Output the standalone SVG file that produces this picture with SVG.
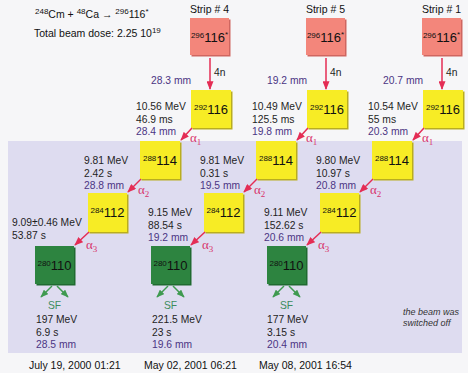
<svg xmlns="http://www.w3.org/2000/svg" width="468" height="373" viewBox="0 0 468 373">
<defs>
<marker id="ar" viewBox="0 0 10 8" refX="9" refY="4" markerWidth="9" markerHeight="7" markerUnits="userSpaceOnUse" orient="auto"><path d="M0,0 L10,4 L0,8 z" fill="#e42d55"/></marker>
<marker id="ag" viewBox="0 0 10 8" refX="9" refY="4" markerWidth="8" markerHeight="6.4" markerUnits="userSpaceOnUse" orient="auto"><path d="M0,0 L10,4 L0,8 z" fill="#3f9a50"/></marker>
</defs>
<style>
text{font-family:"Liberation Sans",Arial,sans-serif;font-size:10.3px;fill:#1e1e1e}
.mm{fill:#4b3584}
.sf{fill:#3c8c5c;text-anchor:middle}
.al{font-family:"Liberation Serif","Times New Roman",serif;font-size:13px;fill:#d8336b}
.al tspan{font-size:9px}
.red{fill:#f3867b}
.rs{fill:#cf6660}
.yel{fill:#f7ec25}
.ys{fill:#b9ad20}
.grn{fill:#2d8440}
.gs{fill:#1f6a30}
.nt{font-size:13px;text-anchor:middle;fill:#111}
.sup{font-size:8px}
.ra{stroke:#e42d55;stroke-width:1.5;fill:none;marker-end:url(#ar)}
.ga{stroke:#3f9a50;stroke-width:1.5;fill:none;marker-end:url(#ag)}
.date{font-size:10.5px;fill:#111}
.note{font-size:9px;font-style:italic;fill:#333}
.hd{font-size:10.5px;fill:#111}
.strip{font-size:10.5px;fill:#111;text-anchor:middle}
</style>
<rect x="0" y="0" width="468" height="373" fill="#f6f6f8"/>
<rect x="8" y="141" width="454" height="212" fill="#dedcf0"/>

<g id="header">
<text class="hd" x="35" y="18"><tspan class="sup" dy="-4">248</tspan><tspan dy="4">Cm + </tspan><tspan class="sup" dy="-4">48</tspan><tspan dy="4">Ca → </tspan><tspan class="sup" dy="-4">296</tspan><tspan dy="4">116</tspan><tspan class="sup" dy="-4">*</tspan></text>
<text class="hd" x="34" y="37">Total beam dose: 2.25 10<tspan class="sup" dy="-4">19</tspan></text>
</g>

<!-- Strip 4 chain -->
<g id="s4-296">
<text class="strip" x="209.5" y="13">Strip # 4</text>
<rect class="rs" x="191.5" y="19.5" width="39" height="37"/>
<rect class="red" x="190" y="18" width="39" height="37"/>
<text class="nt" x="209.5" y="42"><tspan class="sup" dy="-4">296</tspan><tspan dy="4">116</tspan><tspan class="sup" dy="-5">*</tspan></text>
</g>
<g id="s4-292">
<rect class="ys" x="192.5" y="91.5" width="40" height="38"/>
<rect class="yel" x="191" y="90" width="40" height="38"/>
<text class="nt" x="211" y="114"><tspan class="sup" dy="-4">292</tspan><tspan dy="4">116</tspan></text>
<text x="136" y="110">10.56 MeV</text><text x="136" y="122.5">46.9 ms</text><text class="mm" x="136" y="135">28.4 mm</text>
</g>
<g id="s4-288">
<rect class="ys" x="141.5" y="142.5" width="40" height="38"/>
<rect class="yel" x="140" y="141" width="40" height="38"/>
<text class="nt" x="160" y="165"><tspan class="sup" dy="-4">288</tspan><tspan dy="4">114</tspan></text>
<text x="84" y="164">9.81 MeV</text><text x="84" y="176.5">2.42 s</text><text class="mm" x="84" y="189">28.8 mm</text>
</g>
<g id="s4-284">
<rect class="ys" x="89.5" y="194.5" width="39" height="39"/>
<rect class="yel" x="88" y="193" width="39" height="39"/>
<text class="nt" x="107.5" y="217"><tspan class="sup" dy="-4">284</tspan><tspan dy="4">112</tspan></text>
<text x="12" y="226">9.09±0.46 MeV</text><text x="12" y="238.5">53.87 s</text>
</g>
<g id="s4-280">
<rect class="gs" x="36.5" y="247.5" width="39" height="38"/>
<rect class="grn" x="35" y="246" width="39" height="38"/>
<text class="nt" x="54.5" y="270"><tspan class="sup" dy="-4">280</tspan><tspan dy="4">110</tspan></text>
<text class="sf" x="54.5" y="309">SF</text>
<text x="36" y="323">197 MeV</text><text x="36" y="335.5">6.9 s</text><text class="mm" x="36" y="348">28.5 mm</text>
<text class="date" x="29" y="369">July 19, 2000 01:21</text>
</g>

<!-- Strip 5 chain -->
<g id="s5-296">
<text class="strip" x="325.5" y="13">Strip # 5</text>
<rect class="rs" x="307.5" y="19.5" width="39" height="37"/>
<rect class="red" x="306" y="18" width="39" height="37"/>
<text class="nt" x="325.5" y="42"><tspan class="sup" dy="-4">296</tspan><tspan dy="4">116</tspan><tspan class="sup" dy="-5">*</tspan></text>
</g>
<g id="s5-292">
<rect class="ys" x="308.5" y="91.5" width="40" height="38"/>
<rect class="yel" x="307" y="90" width="40" height="38"/>
<text class="nt" x="327" y="114"><tspan class="sup" dy="-4">292</tspan><tspan dy="4">116</tspan></text>
<text x="252" y="110">10.49 MeV</text><text x="252" y="122.5">125.5 ms</text><text class="mm" x="252" y="135">19.8 mm</text>
</g>
<g id="s5-288">
<rect class="ys" x="257.5" y="142.5" width="40" height="38"/>
<rect class="yel" x="256" y="141" width="40" height="38"/>
<text class="nt" x="276" y="165"><tspan class="sup" dy="-4">288</tspan><tspan dy="4">114</tspan></text>
<text x="200" y="164">9.81 MeV</text><text x="200" y="176.5">0.31 s</text><text class="mm" x="200" y="189">19.5 mm</text>
</g>
<g id="s5-284">
<rect class="ys" x="205.5" y="194.5" width="39" height="39"/>
<rect class="yel" x="204" y="193" width="39" height="39"/>
<text class="nt" x="223.5" y="217"><tspan class="sup" dy="-4">284</tspan><tspan dy="4">112</tspan></text>
<text x="148" y="216">9.15 MeV</text><text x="148" y="228.5">88.54 s</text><text class="mm" x="148" y="241">19.2 mm</text>
</g>
<g id="s5-280">
<rect class="gs" x="152.5" y="247.5" width="39" height="38"/>
<rect class="grn" x="151" y="246" width="39" height="38"/>
<text class="nt" x="170.5" y="270"><tspan class="sup" dy="-4">280</tspan><tspan dy="4">110</tspan></text>
<text class="sf" x="170.5" y="309">SF</text>
<text x="152" y="323">221.5 MeV</text><text x="152" y="335.5">23 s</text><text class="mm" x="152" y="348">19.6 mm</text>
<text class="date" x="144" y="369">May 02, 2001 06:21</text>
</g>

<!-- Strip 1 chain -->
<g id="s1-296">
<text class="strip" x="441.5" y="13">Strip # 1</text>
<rect class="rs" x="423.5" y="19.5" width="39" height="37"/>
<rect class="red" x="422" y="18" width="39" height="37"/>
<text class="nt" x="441.5" y="42"><tspan class="sup" dy="-4">296</tspan><tspan dy="4">116</tspan><tspan class="sup" dy="-5">*</tspan></text>
</g>
<g id="s1-292">
<rect class="ys" x="424.5" y="91.5" width="40" height="38"/>
<rect class="yel" x="423" y="90" width="40" height="38"/>
<text class="nt" x="443" y="114"><tspan class="sup" dy="-4">292</tspan><tspan dy="4">116</tspan></text>
<text x="368" y="110">10.54 MeV</text><text x="368" y="122.5">55 ms</text><text class="mm" x="368" y="135">20.3 mm</text>
</g>
<g id="s1-288">
<rect class="ys" x="373.5" y="142.5" width="40" height="38"/>
<rect class="yel" x="372" y="141" width="40" height="38"/>
<text class="nt" x="392" y="165"><tspan class="sup" dy="-4">288</tspan><tspan dy="4">114</tspan></text>
<text x="316" y="164">9.80 MeV</text><text x="316" y="176.5">10.97 s</text><text class="mm" x="316" y="189">20.8 mm</text>
</g>
<g id="s1-284">
<rect class="ys" x="321.5" y="194.5" width="39" height="39"/>
<rect class="yel" x="320" y="193" width="39" height="39"/>
<text class="nt" x="339.5" y="217"><tspan class="sup" dy="-4">284</tspan><tspan dy="4">112</tspan></text>
<text x="264" y="216">9.11 MeV</text><text x="264" y="228.5">152.62 s</text><text class="mm" x="264" y="241">20.6 mm</text>
</g>
<g id="s1-280">
<rect class="gs" x="268.5" y="247.5" width="39" height="38"/>
<rect class="grn" x="267" y="246" width="39" height="38"/>
<text class="nt" x="286.5" y="270"><tspan class="sup" dy="-4">280</tspan><tspan dy="4">110</tspan></text>
<text class="sf" x="286.5" y="309">SF</text>
<text x="267" y="323">177 MeV</text><text x="267" y="335.5">3.15 s</text><text class="mm" x="267" y="348">20.4 mm</text>
<text class="date" x="259" y="369">May 08, 2001 16:54</text>
</g>

<g id="note">
<text class="note" x="403" y="315">the beam was</text>
<text class="note" x="403" y="326">switched off</text>
</g>

<g id="connectors">
<path class="ra" d="M210,58 L210,89"/>
<path class="ra" d="M326,58 L326,89"/>
<path class="ra" d="M442,58 L442,89"/>
<text class="mm" x="151" y="84">28.3 mm</text><text x="214" y="76">4n</text>
<text class="mm" x="267" y="84">19.2 mm</text><text x="330" y="76">4n</text>
<text class="mm" x="383" y="84">20.7 mm</text><text x="446" y="76">4n</text>

<path class="ra" d="M192,128 L181,140"/>
<path class="ra" d="M308,128 L297,140"/>
<path class="ra" d="M424,128 L413,140"/>
<path class="ra" d="M141,179 L128,192"/>
<path class="ra" d="M257,179 L244,192"/>
<path class="ra" d="M373,179 L360,192"/>
<path class="ra" d="M89,232 L75,245"/>
<path class="ra" d="M205,232 L191,245"/>
<path class="ra" d="M321,232 L307,245"/>

<text class="al" x="190" y="142">α<tspan dy="3">1</tspan></text>
<text class="al" x="306" y="142">α<tspan dy="3">1</tspan></text>
<text class="al" x="422" y="142">α<tspan dy="3">1</tspan></text>
<text class="al" x="138" y="194">α<tspan dy="3">2</tspan></text>
<text class="al" x="254" y="194">α<tspan dy="3">2</tspan></text>
<text class="al" x="370" y="194">α<tspan dy="3">2</tspan></text>
<text class="al" x="86" y="249">α<tspan dy="3">3</tspan></text>
<text class="al" x="202" y="249">α<tspan dy="3">3</tspan></text>
<text class="al" x="318" y="249">α<tspan dy="3">3</tspan></text>

<path class="ga" d="M52,286 L41,297"/>
<path class="ga" d="M57,286 L68,297"/>
<path class="ga" d="M168,286 L157,297"/>
<path class="ga" d="M173,286 L184,297"/>
<path class="ga" d="M284,286 L273,297"/>
<path class="ga" d="M289,286 L300,297"/>
</g>
</svg>
